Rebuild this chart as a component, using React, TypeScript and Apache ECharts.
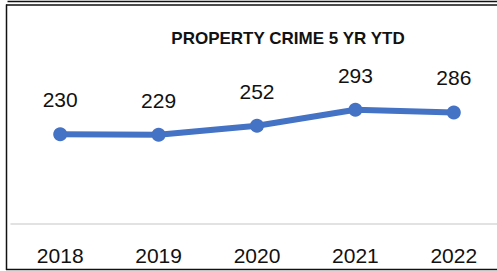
import React, { useEffect, useRef } from "react";
import * as echarts from "echarts";

const years = ["2018", "2019", "2020", "2021", "2022"];
const crimeValues = [230, 229, 252, 293, 286];
const chartTitle = "PROPERTY CRIME 5 YR YTD";

export default function App() {
  const ref = useRef<HTMLDivElement>(null);
  useEffect(() => {
    if (!ref.current) return;
    const chart = echarts.init(ref.current, null, { renderer: "svg" });
    const font = "'Liberation Sans', Arial, sans-serif";
    chart.setOption({
      animation: false,
      grid: { left: 11, right: 0, top: 68, bottom: 47 },
      xAxis: {
        type: "category",
        data: years,
        boundaryGap: true,
        axisLine: { lineStyle: { color: "#d9d9d9", width: 1.5 } },
        axisTick: { length: 7, lineStyle: { color: "#d9d9d9", width: 1.5 } },
        axisLabel: { color: "#111", fontSize: 21, fontFamily: font, margin: 21 },
      },
      yAxis: { type: "value", min: 0, max: 400, show: false, splitLine: { show: false } },
      series: [
        {
          type: "line",
          data: crimeValues,
          symbol: "circle",
          symbolSize: 14,
          lineStyle: { color: "#4472c4", width: 6 },
          itemStyle: { color: "#4472c4" },
          label: {
            show: true,
            position: "top",
            distance: 17,
            color: "#111",
            fontSize: 21,
            fontFamily: font,
          },
        },
      ],
      graphic: [
        {
          type: "text",
          x: 288,
          y: 38,
          style: {
            text: chartTitle,
            fill: "#111",
            font: "bold 17px 'Liberation Sans', Arial, sans-serif",
            textAlign: "center",
            textVerticalAlign: "middle",
          },
        },
        { type: "line", shape: { x1: 7.5, y1: 1.5, x2: 503, y2: 1.5 }, style: { stroke: "#111", lineWidth: 1.5 } },
        { type: "line", shape: { x1: 6, y1: 5, x2: 503, y2: 5 }, style: { stroke: "#111", lineWidth: 1.5 } },
        { type: "line", shape: { x1: 6.5, y1: 4.5, x2: 6.5, y2: 270 }, style: { stroke: "#111", lineWidth: 1.5 } },
        { type: "line", shape: { x1: 6, y1: 269.5, x2: 503, y2: 269.5 }, style: { stroke: "#111", lineWidth: 1.5 } },
      ],
    });
    return () => chart.dispose();
  }, []);
  return (
    <div style={{ position: "fixed", left: 0, top: 0, width: 497, height: 271, overflow: "hidden", background: "#fff" }}>
      <div ref={ref} style={{ width: 503, height: 271 }} />
    </div>
  );
}
